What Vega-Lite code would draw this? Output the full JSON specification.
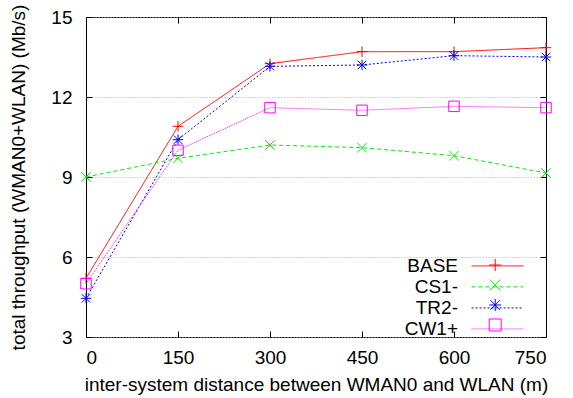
{
  "$schema": "https://vega.github.io/schema/vega-lite/v6.json",
  "width": 460,
  "height": 320,
  "autosize": "none",
  "padding": {"left": 86, "top": 17, "right": 27, "bottom": 61},
  "config": {
    "view": {"stroke": "#000", "strokeWidth": 1},
    "font": "Liberation Sans",
    "axis": {
      "labelFont": "Liberation Sans",
      "labelFontSize": 19,
      "labelColor": "#000",
      "titleFont": "Liberation Sans",
      "titleFontSize": 19,
      "titleFontWeight": "normal",
      "titleColor": "#000",
      "domain": false,
      "tickColor": "#000",
      "tickSize": -6,
      "grid": false
    }
  },
  "data": {
    "values": [
      {"d": 0, "v": 5.2, "series": "BASE", "k": 1},
      {"d": 150, "v": 10.9, "series": "BASE", "k": 1},
      {"d": 300, "v": 13.25, "series": "BASE", "k": 1},
      {"d": 450, "v": 13.7, "series": "BASE", "k": 1},
      {"d": 600, "v": 13.7, "series": "BASE", "k": 1},
      {"d": 750, "v": 13.85, "series": "BASE", "k": 1},
      {"d": 0, "v": 9.0, "series": "CS1-", "k": 2},
      {"d": 150, "v": 9.7, "series": "CS1-", "k": 2},
      {"d": 300, "v": 10.2, "series": "CS1-", "k": 2},
      {"d": 450, "v": 10.1, "series": "CS1-", "k": 2},
      {"d": 600, "v": 9.8, "series": "CS1-", "k": 2},
      {"d": 750, "v": 9.15, "series": "CS1-", "k": 2},
      {"d": 0, "v": 4.45, "series": "TR2-", "k": 3},
      {"d": 150, "v": 10.4, "series": "TR2-", "k": 3},
      {"d": 300, "v": 13.15, "series": "TR2-", "k": 3},
      {"d": 450, "v": 13.2, "series": "TR2-", "k": 3},
      {"d": 600, "v": 13.55, "series": "TR2-", "k": 3},
      {"d": 750, "v": 13.5, "series": "TR2-", "k": 3},
      {"d": 0, "v": 5.0, "series": "CW1+", "k": 4},
      {"d": 150, "v": 10.0, "series": "CW1+", "k": 4},
      {"d": 300, "v": 11.6, "series": "CW1+", "k": 4},
      {"d": 450, "v": 11.5, "series": "CW1+", "k": 4},
      {"d": 600, "v": 11.65, "series": "CW1+", "k": 4},
      {"d": 750, "v": 11.6, "series": "CW1+", "k": 4}
    ]
  },
  "layer": [
    {
      "mark": {"type": "line", "strokeWidth": 1},
      "encoding": {
        "x": {"field": "d", "type": "quantitative", "scale": {"domain": [0, 750], "nice": false},
              "axis": {"orient": "bottom", "values": [0, 150, 300, 450, 600, 750], "labelPadding": 17, "title": "inter-system distance between WMAN0 and WLAN (m)", "titlePadding": 8}},
        "y": {"field": "v", "type": "quantitative", "scale": {"domain": [3, 15], "nice": false, "zero": false},
              "axis": {"orient": "left", "values": [3, 6, 9, 12, 15], "labelPadding": 20, "grid": true, "gridDash": [1, 2], "gridColor": "#aaa", "gridWidth": 1, "title": "total throughput (WMAN0+WLAN) (Mb/s)", "titlePadding": 22}},
        "stroke": {"field": "series", "type": "nominal",
                   "scale": {"domain": ["BASE", "CS1-", "TR2-", "CW1+"], "range": ["#ff0000", "#00ee00", "#0000ff", "#ff00ff"]},
                   "legend": {"title": null, "orient": "none", "legendX": 401, "legendY": 238.4, "symbolType": "M-2.7,0H2.7", "symbolSize": 369, "symbolStrokeWidth": 1, "labelAlign": "right", "labelOffset": -50, "labelFont": "Liberation Sans", "labelFontSize": 19, "labelColor": "#000", "rowPadding": 0, "padding": 0}},
        "strokeDash": {"field": "series", "type": "nominal",
                       "scale": {"domain": ["BASE", "CS1-", "TR2-", "CW1+"], "range": [[1, 0], [4, 3], [2, 2], [1, 1]]},
                       "legend": {"title": null, "orient": "none", "legendX": 401, "legendY": 238.4, "symbolType": "M-2.7,0H2.7", "symbolSize": 369, "symbolStrokeWidth": 1, "labelAlign": "right", "labelOffset": -50, "labelFont": "Liberation Sans", "labelFontSize": 19, "labelColor": "#000", "rowPadding": 0, "padding": 0}}
      }
    },
    {
      "mark": {"type": "point", "filled": false, "size": 110, "strokeWidth": 1, "opacity": 1},
      "encoding": {
        "x": {"field": "d", "type": "quantitative", "axis": {"orient": "top", "values": [0, 150, 300, 450, 600, 750], "labels": false, "title": null}},
        "y": {"field": "v", "type": "quantitative", "axis": {"orient": "right", "values": [3, 6, 9, 12, 15], "labels": false, "title": null}},
        "color": {"field": "series", "type": "nominal", "sort": {"field": "k", "op": "min"},
                  "scale": {"range": ["#ff0000", "#00ee00", "#0000ff", "#ff00ff"]},
                  "legend": {"title": null, "orient": "none", "legendX": 399.7, "legendY": 238.5, "symbolSize": 144, "symbolStrokeWidth": 1, "labelOpacity": 0, "labelFontSize": 19, "rowPadding": 0, "padding": 0}},
        "shape": {"field": "series", "type": "nominal", "sort": {"field": "k", "op": "min"},
                  "scale": {"range": ["M-1,0H1M0,-1V1", "M-0.9,-0.9L0.9,0.9M-0.9,0.9L0.9,-0.9", "M-1,0H1M0,-1V1M-0.8,-0.8L0.8,0.8M-0.8,0.8L0.8,-0.8", "M-1,-1H1V1H-1Z"]},
                  "legend": {"title": null, "orient": "none", "legendX": 399.7, "legendY": 238.5, "symbolSize": 144, "symbolStrokeWidth": 1, "labelOpacity": 0, "labelFontSize": 19, "rowPadding": 0, "padding": 0}}
      }
    }
  ],
  "resolve": {"axis": {"x": "independent", "y": "independent"}}
}
